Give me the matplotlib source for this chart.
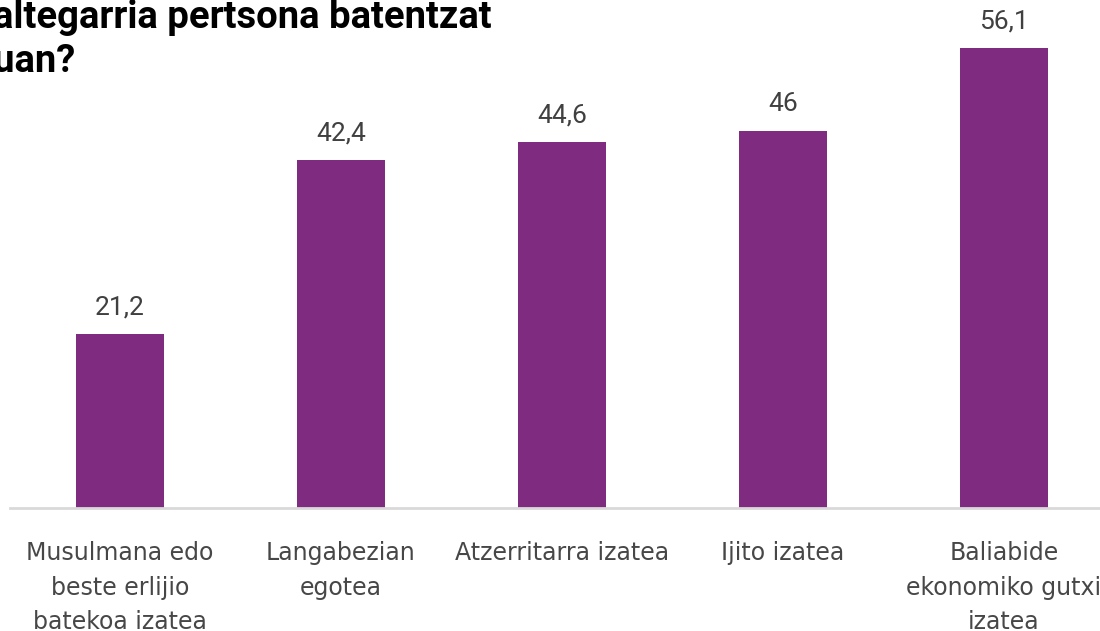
import matplotlib
matplotlib.use("Agg")
import matplotlib.pyplot as plt
from matplotlib import font_manager

categories = ["Musulmana edo\nbeste erlijio\nbatekoa izatea", "Langabezian\negotea",
              "Atzerritarra izatea", "Ijito izatea", "Baliabide\nekonomiko gutxi\nizatea"]
values = [21.2, 42.4, 44.6, 46.0, 56.1]
value_labels = ["21,2", "42,4", "44,6", "46", "56,1"]
title_lines = ["altegarria pertsona batentzat", "uan?"]

fig = plt.figure(figsize=(11, 6.31), dpi=100)
ax = fig.add_axes([9.5/1100, 123/631, 1105/1100, 492/631])
x = range(len(values))
ax.bar(x, values, width=0.4, color="#7f2b80", zorder=2)
for xi, v, lab in zip(x, values, value_labels):
    ax.text(xi, v + 1.8, lab, ha="center", va="bottom", fontsize=19,
            color="#404040", family="Roboto")
ax.set_xlim(-0.5, 4.5)
ax.set_ylim(0, 60)
ax.set_yticks([])
ax.set_xticks(list(x))
ax.set_xticklabels(categories, fontsize=17, color="#474747", family="DejaVu Sans",
                   linespacing=1.55)
ax.tick_params(axis="x", length=0, pad=24)
for s in ["top", "right", "left"]:
    ax.spines[s].set_visible(False)
ax.spines["bottom"].set_color("#d9d9d9")
ax.spines["bottom"].set_linewidth(2)

fig.text(-0.006, 1 - 28/631, title_lines[0], fontsize=27.5, fontweight="bold",
         family="Roboto", color="#000000", va="baseline", ha="left")
fig.text(-0.006, 1 - 72/631, title_lines[1], fontsize=27.5, fontweight="bold",
         family="Roboto", color="#000000", va="baseline", ha="left")

fig.savefig("out.png", dpi=100)
